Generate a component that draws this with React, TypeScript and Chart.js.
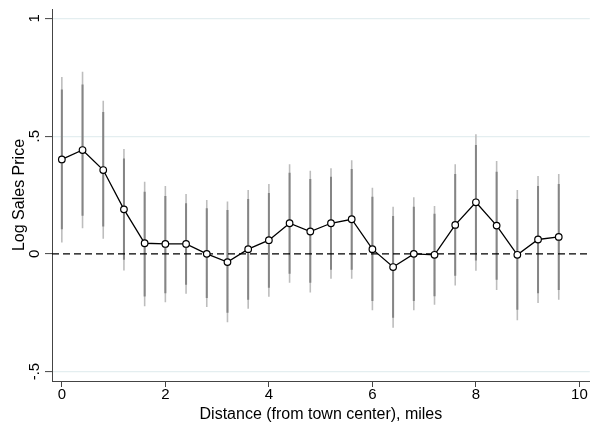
import React, { useEffect, useRef } from "react";
import { Chart, registerables } from "chart.js";

Chart.register(...registerables);

const distances = [0, 0.4, 0.8, 1.2, 1.6, 2.0, 2.4, 2.8, 3.2, 3.6, 4.0, 4.4, 4.8, 5.2, 5.6, 6.0, 6.4, 6.8, 7.2, 7.6, 8.0, 8.4, 8.8, 9.2, 9.6];
const estimates = [0.401, 0.441, 0.356, 0.189, 0.045, 0.042, 0.042, 0.0, -0.035, 0.02, 0.058, 0.13, 0.095, 0.13, 0.147, 0.02, -0.056, 0.0, -0.004, 0.123, 0.219, 0.12, -0.004, 0.061, 0.072];
const outerHigh = [0.751, 0.773, 0.65, 0.445, 0.306, 0.288, 0.254, 0.229, 0.222, 0.271, 0.297, 0.381, 0.353, 0.364, 0.398, 0.281, 0.2, 0.24, 0.203, 0.381, 0.508, 0.394, 0.271, 0.331, 0.339];
const outerLow = [0.048, 0.109, 0.064, -0.071, -0.223, -0.206, -0.169, -0.226, -0.291, -0.233, -0.182, -0.123, -0.164, -0.106, -0.106, -0.24, -0.314, -0.24, -0.216, -0.134, -0.072, -0.153, -0.282, -0.209, -0.195];
const innerHigh = [0.698, 0.719, 0.602, 0.405, 0.264, 0.246, 0.215, 0.194, 0.186, 0.233, 0.258, 0.345, 0.318, 0.328, 0.36, 0.243, 0.161, 0.2, 0.17, 0.339, 0.462, 0.349, 0.233, 0.288, 0.297];
const innerLow = [0.105, 0.162, 0.116, -0.025, -0.181, -0.167, -0.131, -0.188, -0.25, -0.195, -0.144, -0.085, -0.123, -0.068, -0.068, -0.2, -0.271, -0.2, -0.18, -0.093, -0.028, -0.11, -0.237, -0.167, -0.153];

const xTickValues = [0, 2, 4, 6, 8, 10];
const yTickValues = [-0.5, 0, 0.5, 1];
const yTickLabels = ["-.5", "0", ".5", "1"];
const xRange = [-0.19, 10.2];
const yRange = [-0.54, 1.04];
const referenceLevel = 0;

const xTitle = "Distance (from town center), miles";
const yTitle = "Log Sales Price";

function segments(lows: number[], highs: number[]) {
  const out: { x: number; y: number | null }[] = [];
  distances.forEach((d, i) => {
    out.push({ x: d, y: lows[i] });
    out.push({ x: d, y: highs[i] });
    out.push({ x: d, y: null });
  });
  return out;
}

export default function App() {
  const ref = useRef<HTMLCanvasElement | null>(null);
  useEffect(() => {
    if (!ref.current) return;
    Chart.defaults.font.family = "'Liberation Sans', Arial, sans-serif";
    const chart = new Chart(ref.current, {
      type: "line",
      data: {
        datasets: [
          {
            label: "estimate",
            data: distances.map((d, i) => ({ x: d, y: estimates[i] })),
            borderColor: "#000000",
            borderWidth: 1.3,
            pointRadius: 3.3,
            pointBackgroundColor: "#ffffff",
            pointBorderColor: "#000000",
            pointBorderWidth: 1.2,
            tension: 0,
            order: 0,
          },
          {
            label: "zero",
            data: [
              { x: xRange[0], y: referenceLevel },
              { x: xRange[1], y: referenceLevel },
            ],
            borderColor: "#000000",
            borderWidth: 1.3,
            borderDash: [7, 4],
            pointRadius: 0,
            order: 1,
          },
          {
            label: "inner",
            data: segments(innerLow, innerHigh),
            borderColor: "#858585",
            borderWidth: 2,
            pointRadius: 0,
            spanGaps: false,
            order: 2,
          },
          {
            label: "outer",
            data: segments(outerLow, outerHigh),
            borderColor: "#bdbdbd",
            borderWidth: 1.6,
            pointRadius: 0,
            spanGaps: false,
            order: 3,
          },
        ],
      },
      options: {
        responsive: false,
        animation: false,
        layout: { padding: { left: 0, right: 3, top: 9, bottom: 0 } },
        plugins: { legend: { display: false }, tooltip: { enabled: false } },
        scales: {
          x: {
            type: "linear",
            min: xRange[0],
            max: xRange[1],
            afterFit: (s: any) => {
              s.height = 42;
            },
            afterBuildTicks: (s: any) => {
              s.ticks = xTickValues.map((v) => ({ value: v }));
            },
            ticks: {
              color: "#000000",
              font: { size: 15, lineHeight: 1.0 },
              padding: 0,
              maxRotation: 0,
              autoSkip: false,
              callback: (v: any) => String(v),
            },
            grid: {
              drawOnChartArea: false,
              drawTicks: true,
              tickLength: 6,
              tickColor: "#444444",
              tickWidth: 1,
            },
            border: { color: "#444444", width: 1 },
            title: {
              display: true,
              text: xTitle,
              color: "#000000",
              font: { size: 16, lineHeight: 1.1 },
              padding: { top: 0, bottom: 0 },
            },
          },
          y: {
            type: "linear",
            min: yRange[0],
            max: yRange[1],
            afterFit: (s: any) => {
              s.width = 52;
            },
            afterBuildTicks: (s: any) => {
              s.ticks = yTickValues.map((v) => ({ value: v }));
            },
            ticks: {
              color: "#000000",
              font: { size: 15, lineHeight: 1.0 },
              padding: 1,
              minRotation: 90,
              maxRotation: 90,
              crossAlign: "center",
              autoSkip: false,
              callback: (v: any) => {
                const i = yTickValues.indexOf(Number(v));
                return i >= 0 ? yTickLabels[i] : "";
              },
            },
            grid: {
              drawOnChartArea: true,
              drawTicks: true,
              tickLength: 7,
              color: (ctx: any) => (ctx.tick && ctx.tick.value === referenceLevel ? "rgba(0,0,0,0)" : "#e4eef0"),
              tickColor: "#444444",
              lineWidth: 1.2,
              tickWidth: 1,
            },
            border: { color: "#444444", width: 1 },
            title: {
              display: true,
              text: yTitle,
              color: "#000000",
              font: { size: 16, lineHeight: 1.1 },
              padding: { top: 11, bottom: 0 },
            },
          },
        },
      },
    });
    return () => chart.destroy();
  }, []);
  return (
    <div style={{ position: "absolute", left: 0, top: 0, width: 595, height: 423, background: "#ffffff" }}>
      <canvas ref={ref} width={595} height={423} />
    </div>
  );
}
